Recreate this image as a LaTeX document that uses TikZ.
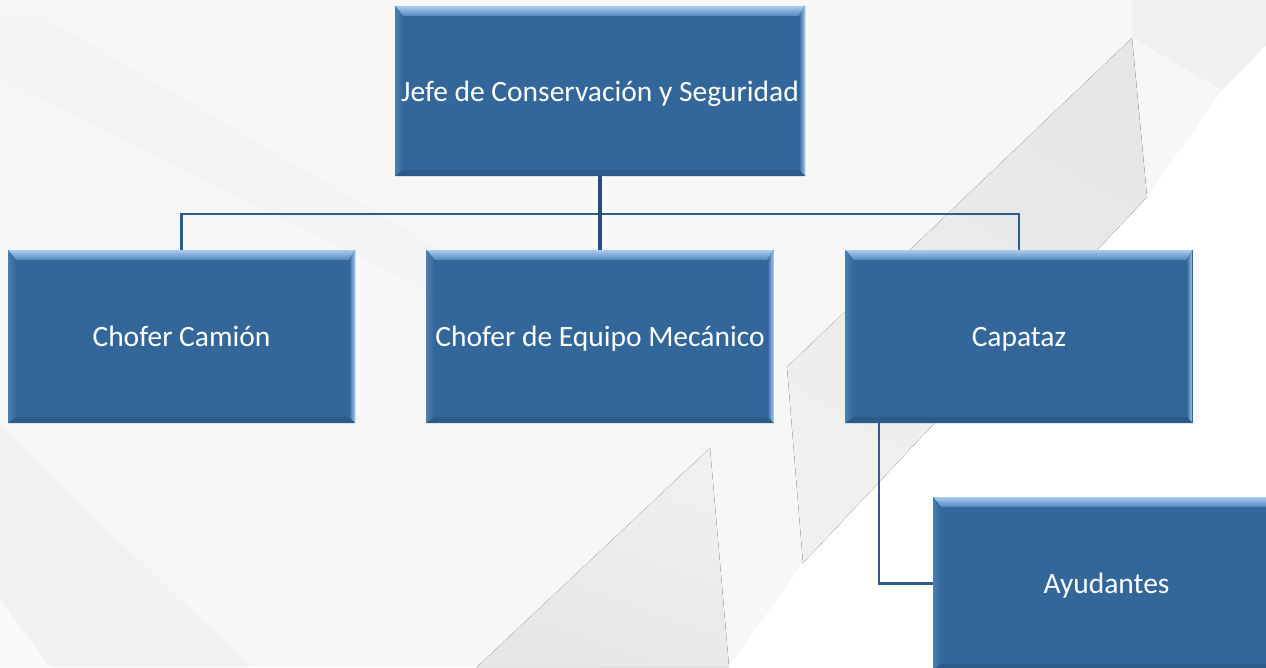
\documentclass[tikz,border=0pt]{standalone}
\usepackage{fontspec}
\setmainfont{Carlito}
\usetikzlibrary{calc}
\definecolor{boxblue}{HTML}{336699}
\definecolor{bevtopA}{HTML}{A9CCF0}
\definecolor{bevtopB}{HTML}{5385BD}
\definecolor{bevleft}{HTML}{4A7DB3}
\definecolor{bevright}{HTML}{A4CBF1}
\definecolor{bevbot}{HTML}{2C5B8A}
\definecolor{linkblue}{HTML}{2E5D8D}
\definecolor{linkdark}{HTML}{23507F}
\definecolor{bgbase}{HTML}{F7F7F7}
\definecolor{bgwedge}{HTML}{E6E6E6}
\definecolor{bglight}{HTML}{F0F0F0}
\tikzset{
 orgbox/.style={rectangle, fill=boxblue, draw=none, inner sep=0pt, text=white,
   font=\fontsize{29.5}{34}\selectfont, minimum width=347pt, minimum height=173pt,
   text height=24pt, text depth=4pt,
   path picture={
     \path (path picture bounding box.north west) coordinate (bNW)
           (path picture bounding box.north east) coordinate (bNE)
           (path picture bounding box.south east) coordinate (bSE)
           (path picture bounding box.south west) coordinate (bSW);
     \path ($(bNW)+(8,-10)$) coordinate (iNW) ($(bNE)+(-6,-10)$) coordinate (iNE)
           ($(bSE)+(-6,6)$) coordinate (iSE) ($(bSW)+(8,6)$) coordinate (iSW);
     \fill[top color=bevtopA, bottom color=bevtopB] (bNW)--(bNE)--(iNE)--(iNW)--cycle;
     \fill[left color=bevleft, right color=boxblue] (bNW)--(iNW)--(iSW)--(bSW)--cycle;
     \fill[left color=boxblue, right color=bevright] (bNE)--(bSE)--(iSE)--(iNE)--cycle;
     \fill[bevbot] (bSW)--(iSW)--(iSE)--(bSE)--cycle;
   }},
 link/.style={draw=linkblue, line width=2.2pt},
 trunk/.style={draw=linkdark, line width=3.2pt},
}
\begin{document}
\begin{tikzpicture}[x=1pt,y=1pt]
\useasboundingbox (0,0) rectangle (1266,-667);
\clip (0,0) rectangle (1266,-667);
% background
\fill[bgbase] (0,0) rectangle (1266,-667);
\fill[white] (1222,-90) -- (1266,-45) -- (1266,-667) -- (729,-667) -- (803,-563) -- (1147,-197) -- cycle;
\fill[bglight] (1133,0) -- (1266,0) -- (1266,-45) -- (1222,-90) -- (1133,-38) -- cycle;
\fill[top color=bgwedge, bottom color=bglight, shading angle=-30] (1132,-38) -- (1147,-197) -- (803,-563) -- (787,-367) -- cycle;
\fill[top color=bglight, bottom color=bgwedge, shading angle=-20] (710,-448) -- (729,-667) -- (477,-667) -- cycle;
\fill[bglight!70!bgbase] (0,-426) -- (250,-667) -- (0,-667) -- cycle;
\fill[white!40!bgbase] (0,-600) -- (50,-667) -- (0,-667) -- cycle;
\fill[bglight, opacity=0.3] (0,-15) -- (40,-15) -- (560,-320) -- (520,-335) -- (0,-80) -- cycle;
% nodes
\node[orgbox, minimum width=410pt, minimum height=170pt] (jefe) at (600,-91) {Jefe de Conservación y Seguridad};
\node[orgbox] (chofer) at (181.5,-336.5) {Chofer Camión};
\node[orgbox] (mec) at (600,-336.5) {Chofer de Equipo Mecánico};
\node[orgbox] (cap) at (1019,-336.5) {Capataz};
\node[orgbox] (ayu) at (1106.5,-583.5) {Ayudantes};
% connectors
\coordinate (bus) at (600,-214);
\coordinate (capdrop) at ($(cap.south west)+(34,0)$);
\draw[link] (chofer.north) |- (bus) -| (cap.north);
\draw[trunk] (jefe.south) -- (mec.north);
\draw[link] (capdrop) |- (ayu.west);
\end{tikzpicture}
\end{document}
